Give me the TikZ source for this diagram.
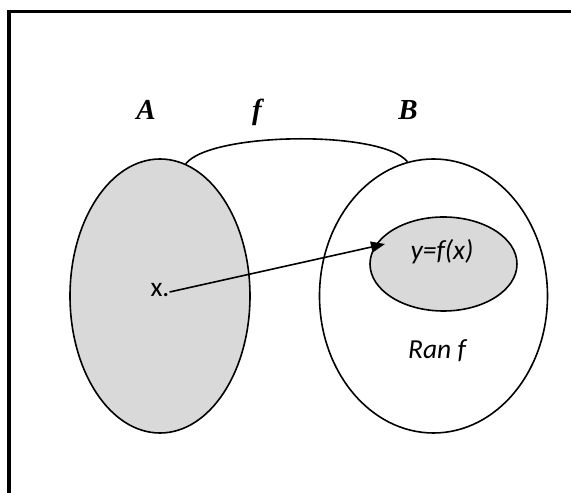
\documentclass[tikz,border=0pt]{standalone}
\usepackage{fontspec}
\setmainfont{Carlito}
\newfontfamily\labelfont{Liberation Serif}
\usepackage{tikz}
\usetikzlibrary{shapes.geometric, arrows.meta}

\begin{document}
\begin{tikzpicture}[
    x=1pt, y=1pt,
    setnode/.style={draw, line width=1.6pt, ellipse, inner sep=0pt},
    setlabel/.style={anchor=base, font=\fontsize{29}{31}\selectfont\labelfont\bfseries\itshape},
    txt/.style={anchor=base, inner sep=0pt, font=\fontsize{27.5}{30}\selectfont}
]
\useasboundingbox (0, 0) rectangle (571, 493);
\draw[line width=3.3pt] (9, 0) -- (9, 481.5) -- (571, 481.5);

\node[setnode, fill=black!15, minimum width=180, minimum height=274] (setA) at (160, 197) {};
\node[setnode, minimum width=228, minimum height=274] (setB) at (433.5, 197) {};
\node[setnode, fill=black!15, minimum width=147, minimum height=94] (ran) at (443.5, 229) {};

\node[setlabel] (labA) at (146, 373) {A};
\node[setlabel] (labf) at (257, 373) {f};
\node[setlabel] (labB) at (408, 373) {B};

\node[txt] (xpt) at (160, 196) {x.};
\node[txt] (img) at (442, 233) {\itshape y=f(x)};
\node[txt] (ranf) at (437, 134) {\itshape Ran f};
\coordinate (tip) at (385, 249);

\draw[line width=1.6pt] (setA.79) .. controls +(25, 32) and +(-25, 32) .. (setB.101);
\draw[line width=1.6pt, -{Triangle[length=14pt, width=11pt]}] ([yshift=5pt]xpt.base east) -- (tip);
\end{tikzpicture}
\end{document}
